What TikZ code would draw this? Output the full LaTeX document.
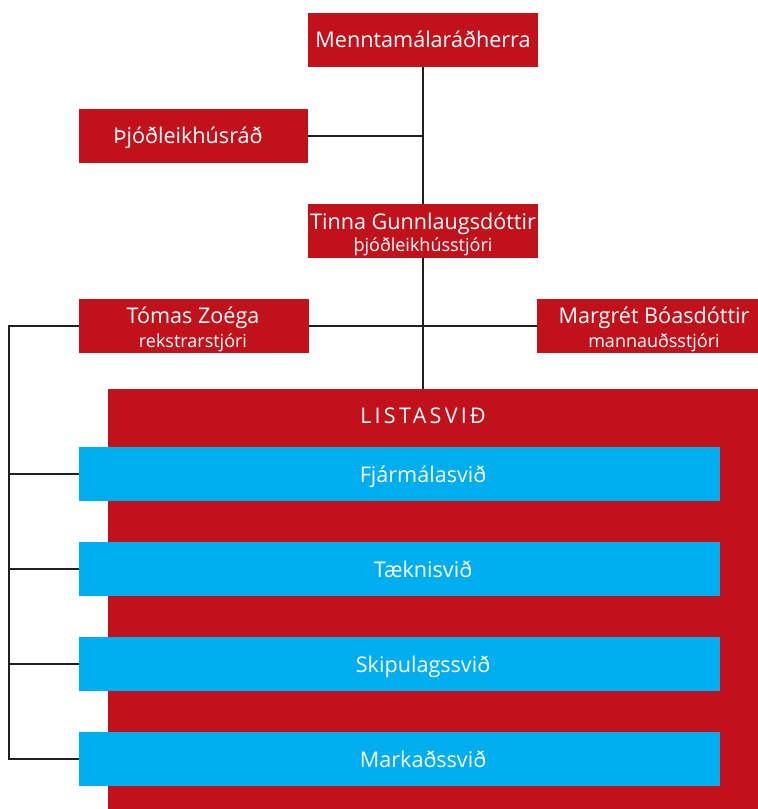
\documentclass[tikz,border=0pt]{standalone}
\usepackage{fontspec}
\setmainfont{Open Sans}
\definecolor{nred}{HTML}{C1121C}
\definecolor{nblue}{HTML}{00AEEF}
\definecolor{nline}{HTML}{231F20}
\newcommand{\bigtxt}{\fontsize{21.6}{24}\selectfont}
\newcommand{\smalltxt}{\fontsize{18}{20}\selectfont}
\begin{document}
\begin{tikzpicture}[x=1pt,y=-1pt,
  redbox/.style={fill=nred, inner sep=0pt, anchor=north west, minimum height=54},
  bluebox/.style={fill=nblue, inner sep=0pt, anchor=north west, minimum width=641, minimum height=54},
  boxtext/.style={text=white, font=\bigtxt, inner sep=0pt, anchor=base},
  subtext/.style={text=white, font=\smalltxt, inner sep=0pt, anchor=base},
  conn/.style={draw=nline, line width=2pt}]
\useasboundingbox (0,0) rectangle (758,809);
\clip (0,0) rectangle (758,809);
% connectors (drawn first, boxes go on top)
\path (308,13) node[redbox, minimum width=230] (menn) {}
      (79,109) node[redbox, minimum width=229] (rad) {}
      (308,204) node[redbox, minimum width=230] (tinna) {}
      (79,299) node[redbox, minimum width=230] (tomas) {}
      (537,299) node[redbox, minimum width=234] (marg) {}
      (108,389) node[fill=nred, inner sep=0pt, anchor=north west, minimum width=660, minimum height=430] (lista) {}
      (79,447) node[bluebox] (fj) {}
      (79,542) node[bluebox] (tk) {}
      (79,637) node[bluebox] (sk) {}
      (79,732) node[bluebox] (mk) {};
\coordinate (lb) at ([xshift=-70pt]tomas.west);
\begin{scope}
\draw[conn] (menn.south) -- (menn.south |- lista.north);
\draw[conn] (rad.east) -- (rad.east -| menn.south);
\draw[conn] (tomas.east) -- (marg.west);
\draw[conn] (tomas.west) -- (lb) -- (lb |- mk.west) -- (mk.west);
\draw[conn] (lb |- fj.west) -- (fj.west);
\draw[conn] (lb |- tk.west) -- (tk.west);
\draw[conn] (lb |- sk.west) -- (sk.west);
\end{scope}
% boxes on top of the lines
\fill[nred] (menn.north west) rectangle (menn.south east);
\fill[nred] (rad.north west) rectangle (rad.south east);
\fill[nred] (tinna.north west) rectangle (tinna.south east);
\fill[nred] (tomas.north west) rectangle (tomas.south east);
\fill[nred] (marg.north west) rectangle (marg.south east);
\fill[nred] (lista.north west) rectangle (lista.south east);
\fill[nblue] (fj.north west) rectangle (fj.south east);
\fill[nblue] (tk.north west) rectangle (tk.south east);
\fill[nblue] (sk.north west) rectangle (sk.south east);
\fill[nblue] (mk.north west) rectangle (mk.south east);
% texts
\node[boxtext] (mennt) at (423,47) {Menntamálaráðherra};
\node[boxtext] (radt) at (188,143) {Þjóðleikhúsráð};
\node[boxtext] (tinnat) at (423,229) {Tinna Gunnlaugsdóttir};
\node[subtext] (tinnas) at (423,251) {þjóðleikhússtjóri};
\node[boxtext] (tomast) at (193,323) {Tómas Zoéga};
\node[subtext] (tomass) at (193,347) {rekstrarstjóri};
\node[boxtext] (margt) at (654,323) {Margrét Bóasdóttir};
\node[subtext] (margs) at (654,347) {mannauðsstjóri};
\node[boxtext] (listat) at (423,423) {\addfontfeature{LetterSpace=15}LISTASVIÐ};
\node[boxtext] (fjt) at (423,482) {Fjármálasvið};
\node[boxtext] (tkt) at (423,577) {Tæknisvið};
\node[boxtext] (skt) at (423,672) {Skipulagssvið};
\node[boxtext] (mkt) at (423,767) {Markaðssvið};
\end{tikzpicture}
\end{document}
